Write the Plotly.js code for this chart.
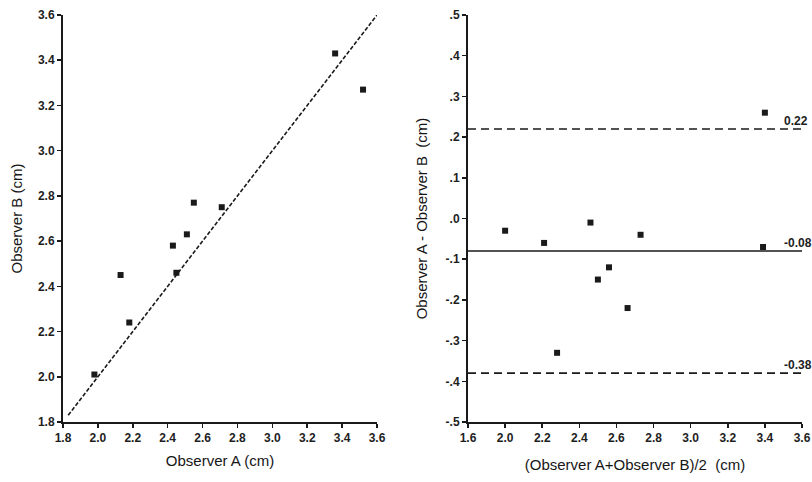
<!DOCTYPE html>
<html>
<head>
<meta charset="utf-8">
<script src="https://cdn.plot.ly/plotly-3.0.1.min.js"></script>
<style>html,body{margin:0;padding:0;background:#fff;}#chart{width:812px;height:482px;}</style>
</head>
<body>
<div id="chart"></div>
<script>
// Left panel: Observer A vs Observer B (cm)
const observerA = [1.98, 2.13, 2.18, 2.43, 2.45, 2.51, 2.55, 2.71, 3.36, 3.52];
const observerB = [2.01, 2.45, 2.24, 2.58, 2.46, 2.63, 2.77, 2.75, 3.43, 3.27];
// identity line end points
const identityX = [1.83, 3.6];
const identityY = [1.83, 3.6];

// Right panel: Bland-Altman
const meanAB = [2.00, 2.21, 2.28, 2.46, 2.50, 2.56, 2.66, 2.73, 3.40, 3.39];
const diffAB = [-0.03, -0.06, -0.33, -0.01, -0.15, -0.12, -0.22, -0.04, 0.26, -0.07];
const meanDiff = -0.08;
const upperLimit = 0.22;
const lowerLimit = -0.38;
const limitLabels = ["0.22", "-0.08", "-0.38"];
const baRangeX = [1.8, 3.6];

// tick labels
const leftTickVals = [1.8, 2.0, 2.2, 2.4, 2.6, 2.8, 3.0, 3.2, 3.4, 3.6];
const leftTickText = ["1.8", "2.0", "2.2", "2.4", "2.6", "2.8", "3.0", "3.2", "3.4", "3.6"];
const rightXTickText = ["1.6", "2.0", "2.2", "2.4", "2.6", "2.8", "3.0", "3.2", "3.4", "3.6"];
const rightYTickVals = [0.5, 0.4, 0.3, 0.2, 0.1, 0.0, -0.1, -0.2, -0.3, -0.4, -0.5];
const rightYTickText = [".5", ".4", ".3", ".2", ".1", ".0", "-.1", "-.2", "-.3", "-.4", "-.5"];

const ink = '#1a1a1a';
const tickFont = {family: 'Liberation Sans, Arial, sans-serif', size: 12, color: '#1e1e1e', weight: 'bold'};
const titleFont = {family: 'Liberation Sans, Arial, sans-serif', size: 15, color: '#161616'};

const marker = {symbol: 'square', size: 6, color: ink};

const traces = [
  {x: identityX, y: identityY, xaxis: 'x', yaxis: 'y', mode: 'lines',
   line: {color: ink, width: 1.6, dash: '4px,2px'}, hoverinfo: 'skip'},
  {x: observerA, y: observerB, xaxis: 'x', yaxis: 'y', mode: 'markers', marker: marker},
  {x: baRangeX, y: [upperLimit, upperLimit], xaxis: 'x2', yaxis: 'y2', mode: 'lines',
   line: {color: ink, width: 1.6, dash: '8px,5px'}},
  {x: baRangeX, y: [meanDiff, meanDiff], xaxis: 'x2', yaxis: 'y2', mode: 'lines',
   line: {color: ink, width: 1.6}},
  {x: baRangeX, y: [lowerLimit, lowerLimit], xaxis: 'x2', yaxis: 'y2', mode: 'lines',
   line: {color: ink, width: 1.6, dash: '8px,5px'}},
  {x: meanAB, y: diffAB, xaxis: 'x2', yaxis: 'y2', mode: 'markers', marker: marker}
];

const axisBase = {
  showgrid: false, zeroline: false, showline: true, linewidth: 2, linecolor: ink,
  ticks: 'outside', ticklen: 4, tickwidth: 1.5, tickcolor: ink,
  tickfont: tickFont, automargin: false, fixedrange: true
};

const yDomain = [60/482, 467/482];

const layout = {
  width: 812, height: 482,
  margin: {l: 0, r: 0, t: 0, b: 0},
  paper_bgcolor: '#fff', plot_bgcolor: '#fff',
  showlegend: false,
  xaxis: Object.assign({}, axisBase, {
    domain: [63/812, 377/812], range: [1.8, 3.6],
    tickvals: leftTickVals, ticktext: leftTickText, anchor: 'y',
    title: {text: 'Observer A (cm)', font: titleFont, standoff: 11}
  }),
  yaxis: Object.assign({}, axisBase, {
    domain: yDomain, range: [1.8, 3.6],
    tickvals: leftTickVals, ticktext: leftTickText, anchor: 'x',
    title: {text: 'Observer B (cm)', font: titleFont, standoff: 12}
  }),
  xaxis2: Object.assign({}, axisBase, {
    domain: [468/812, 802/812], range: baRangeX,
    tickvals: leftTickVals, ticktext: rightXTickText, anchor: 'y2',
    title: {text: '(Observer A+Observer B)/2&nbsp;&nbsp;(cm)', font: titleFont, standoff: 15}
  }),
  yaxis2: Object.assign({}, axisBase, {
    domain: yDomain, range: [-0.5, 0.5],
    tickvals: rightYTickVals, ticktext: rightYTickText, anchor: 'x2',
    title: {text: 'Observer A - Observer B&nbsp;&nbsp;(cm)', font: titleFont, standoff: 14}
  }),
  annotations: [upperLimit, meanDiff, lowerLimit].map((v, i) => ({
    x: 3.49, y: v, xref: 'x2', yref: 'y2', text: limitLabels[i],
    showarrow: false, xanchor: 'left', yanchor: 'bottom', yshift: -1,
    font: tickFont
  }))
};

Plotly.newPlot('chart', traces, layout, {staticPlot: true, displayModeBar: false});
</script>
</body>
</html>
